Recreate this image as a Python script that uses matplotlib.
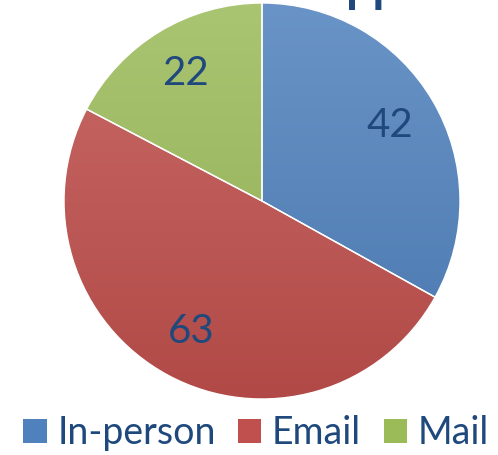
import numpy as np
import matplotlib.pyplot as plt
from matplotlib.patches import Patch
import matplotlib.colors as mcolors

labels = ["In-person", "Email", "Mail"]
values = [42, 63, 22]
colors = ["#4F81BD", "#C0504D", "#9BBB59"]
text_color = "#1F497D"

W, H = 498, 455
fig = plt.figure(figsize=(W / 100, H / 100), dpi=100)

cx, cy, r = 262, 201, 198
ax = fig.add_axes([(cx - r) / W, (H - cy - r) / H, 2 * r / W, 2 * r / H])

wedges, texts = ax.pie(values, colors=colors, startangle=90, counterclock=False,
                       labels=[str(v) for v in values], labeldistance=0.75,
                       wedgeprops=dict(edgecolor="white", linewidth=1))
for t in texts:
    t.set_fontsize(29)
    t.set_color(text_color)
    t.set_family("Lato")
    t.set_ha("center")
    t.set_va("center")

# vertical gradient like the office-style fill
grad = np.linspace(0, 1, 256).reshape(-1, 1)
for w, c in zip(wedges, colors):
    base = np.array(mcolors.to_rgb(c))
    light = base + (1 - base) * 0.15
    dark = base * 0.92
    img = light[None, None, :] * (1 - grad[:, :, None]) + dark[None, None, :] * grad[:, :, None]
    w.set_facecolor("none")
    im = ax.imshow(img, extent=(-1, 1, -1, 1), origin="upper", aspect="auto", zorder=0.5)
    im.set_clip_path(w)
ax.set_xlim(-1, 1)
ax.set_ylim(-1, 1)
ax.axis("off")

# title cut off at the top of the image
fig.text(0.875, 1.0, "Application", ha="center", va="baseline", fontsize=30,
         fontweight="bold", color=text_color, family="Open Sans")

handles = [Patch(facecolor=c, edgecolor="none") for c in colors]
leg = fig.legend(handles, labels, loc="center", bbox_to_anchor=(0.514, 1 - 433 / H), ncol=3,
                 frameon=False, handlelength=0.62, handleheight=0.62,
                 handletextpad=0.28, columnspacing=0.6, borderpad=0, borderaxespad=0,
                 prop=dict(family="Lato", size=27))
for t in leg.get_texts():
    t.set_color(text_color)

fig.savefig("out.png", dpi=100)
